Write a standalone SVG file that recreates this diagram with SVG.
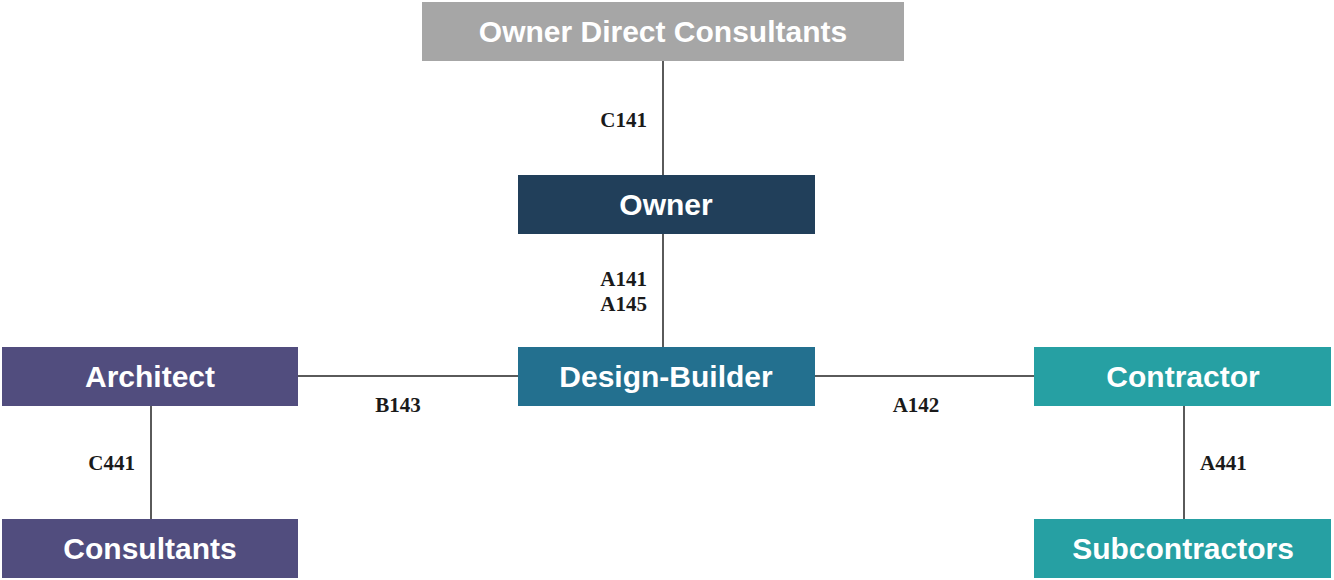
<svg xmlns="http://www.w3.org/2000/svg" width="1334" height="580" viewBox="0 0 1334 580">
<style>
.box text{fill:#fff;font-family:"Liberation Sans",Arial,sans-serif;font-weight:bold;font-size:30px;text-anchor:middle}
.lbl{fill:#1a1a1a;font-family:"Liberation Serif","DejaVu Serif",serif;font-weight:bold;font-size:21px}
.conn line{stroke:#5a5a5a;stroke-width:2}
</style>
<rect width="1334" height="580" fill="#fff"/>
<g id="connectors" class="conn">
<line x1="663" y1="61" x2="663" y2="175"/>
<line x1="663" y1="234" x2="663" y2="347"/>
<line x1="298" y1="376" x2="518" y2="376"/>
<line x1="815" y1="376" x2="1034" y2="376"/>
<line x1="151" y1="406" x2="151" y2="519"/>
<line x1="1184" y1="406" x2="1184" y2="519"/>
</g>
<g id="labels">
<text class="lbl" x="647" y="127" text-anchor="end">C141</text>
<text class="lbl" x="647" y="286" text-anchor="end">A141</text>
<text class="lbl" x="647" y="311" text-anchor="end">A145</text>
<text class="lbl" x="398" y="412" text-anchor="middle">B143</text>
<text class="lbl" x="916" y="412" text-anchor="middle">A142</text>
<text class="lbl" x="135" y="470" text-anchor="end">C441</text>
<text class="lbl" x="1200" y="470">A441</text>
</g>
<g id="owner-direct-consultants" class="box"><rect x="422" y="2" width="482" height="59" fill="#a6a6a6"/><text x="663" y="42">Owner Direct Consultants</text></g>
<g id="owner" class="box"><rect x="518" y="175" width="297" height="59" fill="#213f5a"/><text x="666" y="215">Owner</text></g>
<g id="design-builder" class="box"><rect x="518" y="347" width="297" height="59" fill="#23708f"/><text x="666" y="387">Design-Builder</text></g>
<g id="architect" class="box"><rect x="2" y="347" width="296" height="59" fill="#514d7e"/><text x="150" y="387">Architect</text></g>
<g id="contractor" class="box"><rect x="1034" y="347" width="297" height="59" fill="#26a0a3"/><text x="1183" y="387">Contractor</text></g>
<g id="consultants" class="box"><rect x="2" y="519" width="296" height="59" fill="#514d7e"/><text x="150" y="559">Consultants</text></g>
<g id="subcontractors" class="box"><rect x="1034" y="519" width="297" height="59" fill="#26a0a3"/><text x="1183" y="559">Subcontractors</text></g>
</svg>
